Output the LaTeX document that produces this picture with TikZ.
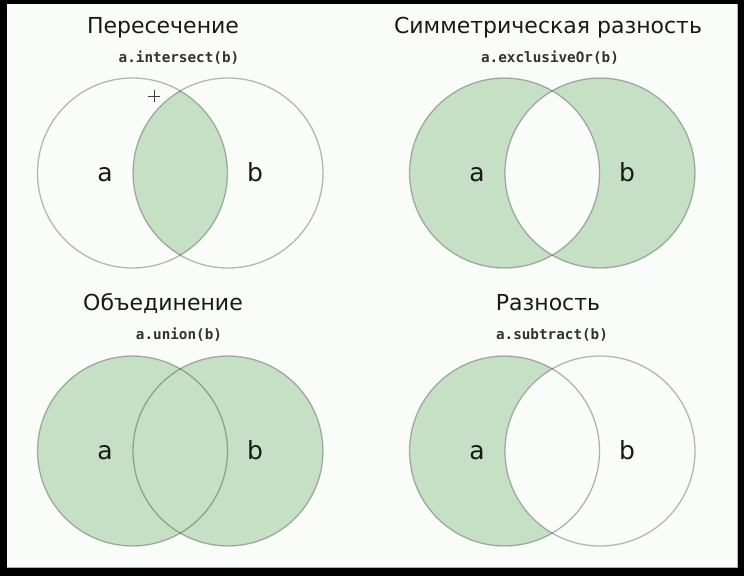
\documentclass[tikz,border=0pt]{standalone}
\usepackage{fontspec}
\newfontfamily\titlefont{DejaVu Sans}
\newfontfamily\codefont{DejaVu Sans Mono}
\definecolor{vgreen}{RGB}{197,224,196}
\definecolor{vpaper}{RGB}{250,252,250}
\definecolor{vcode}{RGB}{50,50,50}
\begin{document}
\begin{tikzpicture}[x=1pt,y=-1pt,
  ring/.style={draw=black,draw opacity=0.28,line width=1.3pt},
  titletext/.style={font=\titlefont\fontsize{22}{26}\selectfont,text=black!90,inner sep=0pt},
  codetext/.style={font=\codefont\bfseries\fontsize{14.3}{17}\selectfont,text=vcode,inner sep=0pt},
  settext/.style={font=\titlefont\fontsize{25}{29}\selectfont,text=black!90,inner sep=0pt,anchor=base}]
\fill[black] (0,0) rectangle (744,576);
\useasboundingbox (0,0) rectangle (744,576);
\fill[vpaper] (7,4) rectangle (737,567);
\draw[gray!60,line width=0.8pt] (737,4) -- (737,567) -- (7,567);

% ---------- intersection
\begin{scope}
\clip (132.5,173) circle[radius=95pt];
\fill[vgreen] (228,173) circle[radius=95pt];
\end{scope}
\draw[ring] (132.5,173) circle[radius=95pt];
\draw[ring] (228,173) circle[radius=95pt];
\node[titletext] (t1) at (163,28) {Пересечение};
\node[codetext] (c1) at (179,58) {a.intersect(b)};
\node[settext] (a1) at (105,181) {a};
\node[settext] (b1) at (255,181) {b};
\coordinate (p) at (154,96);
\draw[black!75,line width=0.9pt] ([xshift=-6pt]p) -- ([xshift=6pt]p) ([yshift=-6pt]p) -- ([yshift=6pt]p);

% ---------- symmetric difference
\fill[vgreen,even odd rule] (504.5,173) circle[radius=95pt] (600,173) circle[radius=95pt];
\draw[ring] (504.5,173) circle[radius=95pt];
\draw[ring] (600,173) circle[radius=95pt];
\node[titletext] (t2) at (548,28) {Симметрическая разность};
\node[codetext] (c2) at (550,58) {a.exclusiveOr(b)};
\node[settext] (a2) at (477,181) {a};
\node[settext] (b2) at (627,181) {b};

% ---------- union
\fill[vgreen] (132.5,451) circle[radius=95pt] (228,451) circle[radius=95pt];
\draw[ring] (132.5,451) circle[radius=95pt];
\draw[ring] (228,451) circle[radius=95pt];
\node[titletext] (t3) at (163,303) {Объединение};
\node[codetext] (c3) at (179,335) {a.union(b)};
\node[settext] (a3) at (105,459) {a};
\node[settext] (b3) at (255,459) {b};

% ---------- difference
\fill[vgreen] (504.5,451) circle[radius=95pt];
\begin{scope}
\clip (504.5,451) circle[radius=95pt];
\fill[vpaper] (600,451) circle[radius=95pt];
\end{scope}
\draw[ring] (504.5,451) circle[radius=95pt];
\draw[ring] (600,451) circle[radius=95pt];
\node[titletext] (t4) at (548,303) {Разность};
\node[codetext] (c4) at (552,335) {a.subtract(b)};
\node[settext] (a4) at (477,459) {a};
\node[settext] (b4) at (627,459) {b};
\end{tikzpicture}
\end{document}
